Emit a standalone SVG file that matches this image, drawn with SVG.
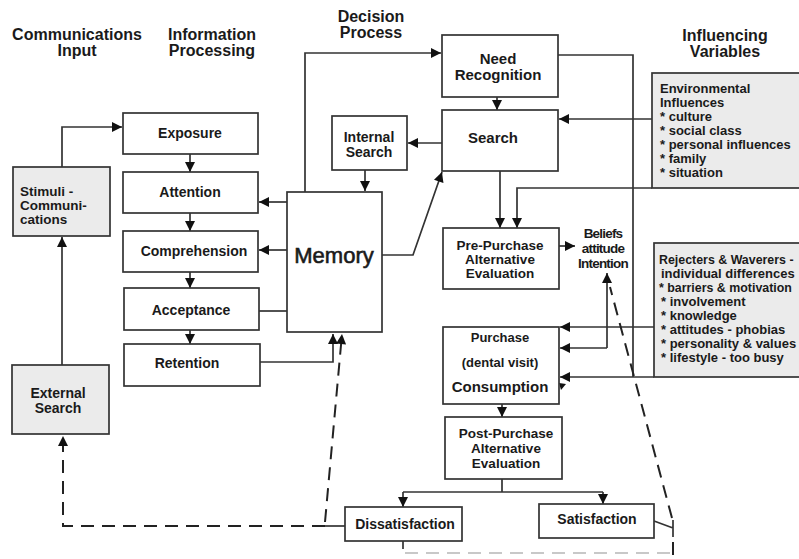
<svg xmlns="http://www.w3.org/2000/svg" width="799" height="559" viewBox="0 0 799 559">
<defs>
<style>
.bx{fill:#fff;stroke:#333;stroke-width:1.7}
.gb{fill:#ebebeb;stroke:#333;stroke-width:1.7}
.t{font-family:"Liberation Sans",Arial,sans-serif;font-weight:bold;font-size:14px;fill:#1a1a1a;text-anchor:middle}
.h{font-family:"Liberation Sans",Arial,sans-serif;font-weight:bold;font-size:16px;fill:#1a1a1a;text-anchor:middle}
.l{font-family:"Liberation Sans",Arial,sans-serif;font-weight:bold;font-size:13px;fill:#1a1a1a}
.c{fill:none;stroke:#333;stroke-width:1.7}
.d{fill:none;stroke:#222;stroke-width:2;stroke-dasharray:13 8}
.a{marker-end:url(#ah)}
</style>
<marker id="ah" viewBox="0 0 10 10" refX="10" refY="5" markerWidth="13" markerHeight="10" orient="auto" markerUnits="userSpaceOnUse"><path d="M0,0 L10,5 L0,10 z" fill="#111"/></marker>
</defs>
<rect width="799" height="559" fill="#fff"/>

<g id="titles">
<text class="h" x="77" y="40">Communications</text>
<text class="h" x="77" y="56">Input</text>
<text class="h" x="212" y="40">Information</text>
<text class="h" x="212" y="56">Processing</text>
<text class="h" x="371" y="22">Decision</text>
<text class="h" x="371" y="38">Process</text>
<text class="h" x="725" y="41">Influencing</text>
<text class="h" x="725" y="57">Variables</text>
</g>

<g id="connectors">
<path class="c a" d="M62,167 V127 H122"/>
<path class="c a" d="M62,365 V237"/>
<path class="c" d="M345,526 H325"/>
<path class="d a" d="M325,526 H63 V436"/>
<path class="d a" d="M325,522 L342,334"/>
<path class="c a" d="M260,362 H333 V334"/>
<path class="c" d="M259,311 H287"/>
<path class="c a" d="M287,202 H259"/>
<path class="c a" d="M287,250 H259"/>
<path class="c a" d="M190,154 V172"/>
<path class="c a" d="M190,213 V231"/>
<path class="c a" d="M190,272 V288"/>
<path class="c a" d="M190,330 V344"/>
<path class="c a" d="M305,192 V53 H441"/>
<path class="c a" d="M365,170 V191"/>
<path class="c a" d="M442,143 H408"/>
<path class="c a" d="M382,255 H413 L442,172"/>
<path class="c a" d="M497,97 V110"/>
<path class="c" d="M558,55 H633 V377"/>
<path class="c a" d="M652,119 H559"/>
<path class="c a" d="M652,188 H517 V228"/>
<path class="c a" d="M500,171 V228"/>
<path class="c a" d="M559,246 H575"/>
<path class="c a" d="M654,327 H560"/>
<path class="c a" d="M607,348 V273"/>
<path class="c a" d="M607,348 H560"/>
<path class="c a" d="M654,377 H560"/>
<polygon points="559,383 566,384 561,390" fill="#111"/>
<path class="c a" d="M502,404 V417"/>
<path class="c" d="M502,479 V492 M403,492 H603"/>
<path class="c a" d="M403,492 V507"/>
<path class="c a" d="M603,492 V504"/>
<path class="c" d="M403,541 V549"/>
<path class="d" d="M405,553 H670" style="stroke:#c8c8c8"/>
<path class="c" d="M654,521 L673,528 M673,520 V537"/>
<path class="d" d="M673,542 V559"/>
<path class="d" d="M672,518 L610,287"/>
</g>

<g id="exposure"><rect class="bx" x="123" y="113" width="135" height="41"/><text class="t" x="190" y="138">Exposure</text></g>
<g id="attention"><rect class="bx" x="123" y="172" width="135" height="41"/><text class="t" x="190" y="197">Attention</text></g>
<g id="comprehension"><rect class="bx" x="123" y="231" width="135" height="41"/><text class="t" x="194" y="256">Comprehension</text></g>
<g id="acceptance"><rect class="bx" x="124" y="288" width="135" height="42"/><text class="t" x="191" y="315">Acceptance</text></g>
<g id="retention"><rect class="bx" x="124" y="344" width="136" height="42"/><text class="t" x="187" y="368">Retention</text></g>
<g id="stimuli"><rect class="gb" x="13" y="167" width="97" height="69"/>
<text class="t" style="text-anchor:start;font-size:13.5px" x="20" y="196">Stimuli  -</text>
<text class="t" style="text-anchor:start;font-size:13.5px" x="20" y="210">Communi-</text>
<text class="t" style="text-anchor:start;font-size:13.5px" x="20" y="224">cations</text></g>
<g id="external-search"><rect class="gb" x="12" y="365" width="97" height="69"/>
<text class="t" x="58" y="398">External</text><text class="t" x="58" y="413">Search</text></g>
<g id="memory"><rect class="bx" x="287" y="192" width="95" height="140"/>
<text class="t" style="font-weight:normal;font-size:22px;stroke:#1a1a1a;stroke-width:0.6" x="334" y="263">Memory</text></g>
<g id="internal-search"><rect class="bx" x="332" y="116" width="75" height="54"/>
<text class="t" x="369" y="142">Internal</text><text class="t" x="369" y="157">Search</text></g>
<g id="need-recognition"><rect class="bx" x="442" y="35" width="116" height="62"/>
<text class="t" style="font-size:15px" x="498" y="64">Need</text><text class="t" style="font-size:15px" x="498" y="80">Recognition</text></g>
<g id="search"><rect class="bx" x="442" y="110" width="116" height="61"/>
<text class="t" style="font-size:15px" x="493" y="143">Search</text></g>
<g id="pre-purchase"><rect class="bx" x="443" y="228" width="116" height="61"/>
<text class="t" style="font-size:13.5px" x="500" y="250">Pre-Purchase</text><text class="t" style="font-size:13.5px" x="500" y="264">Alternative</text><text class="t" style="font-size:13.5px" x="500" y="278">Evaluation</text></g>
<g id="beliefs">
<text class="t" style="font-size:13.5px;letter-spacing:-0.8px" x="603" y="238">Beliefs</text>
<text class="t" style="font-size:13.5px;letter-spacing:-0.8px" x="603" y="253">attitude</text>
<text class="t" style="font-size:13.5px;letter-spacing:-0.8px" x="603" y="268">Intention</text></g>
<g id="purchase"><rect class="bx" x="443" y="327" width="116" height="77"/>
<text class="t" style="font-size:13px" x="500" y="342">Purchase</text>
<text class="t" style="font-size:13px" x="500" y="367">(dental  visit)</text>
<text class="t" style="font-size:15px" x="500" y="392">Consumption</text></g>
<g id="post-purchase"><rect class="bx" x="445" y="417" width="117" height="62"/>
<text class="t" style="font-size:13.5px" x="506" y="438">Post-Purchase</text><text class="t" style="font-size:13.5px" x="506" y="453">Alternative</text><text class="t" style="font-size:13.5px" x="506" y="468">Evaluation</text></g>
<g id="dissatisfaction"><rect class="bx" x="345" y="507" width="117" height="34"/>
<text class="t" x="405" y="529">Dissatisfaction</text></g>
<g id="satisfaction"><rect class="bx" x="539" y="504" width="115" height="34"/>
<text class="t" x="597" y="524">Satisfaction</text></g>
<g id="environmental"><rect class="gb" x="652" y="73" width="160" height="115"/>
<text class="l" x="660" y="93">Environmental</text>
<text class="l" x="660" y="107">Influences</text>
<text class="l" x="660" y="121">*  culture</text>
<text class="l" x="660" y="135">*  social  class</text>
<text class="l" x="660" y="149">*  personal  influences</text>
<text class="l" x="660" y="163">*  family</text>
<text class="l" x="660" y="177">*  situation</text></g>
<g id="rejecters"><rect class="gb" x="654" y="243" width="160" height="134"/>
<text class="l" style="font-size:12.4px" x="659" y="264">Rejecters &amp; Waverers -</text>
<text class="l" x="661" y="278">individual  differences</text>
<text class="l" style="font-size:12.4px" x="659" y="292">*  barriers &amp; motivation</text>
<text class="l" x="661" y="306">*  involvement</text>
<text class="l" x="661" y="320">*  knowledge</text>
<text class="l" x="661" y="334">*  attitudes  -  phobias</text>
<text class="l" x="661" y="348">*  personality &amp; values</text>
<text class="l" x="661" y="362">*  lifestyle  -  too  busy</text></g>
</svg>
